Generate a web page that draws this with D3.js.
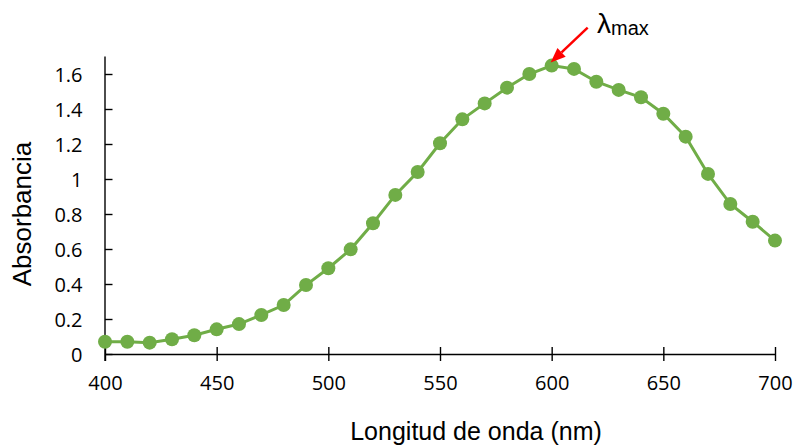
<!DOCTYPE html>
<html>
<head>
<meta charset="utf-8">
<script src="https://cdn.jsdelivr.net/npm/d3@7"></script>
<style>
  html, body { margin: 0; padding: 0; background: #fff; }
  svg { display: block; }
  .tick text { font-family: "Open Sans", "Noto Sans", sans-serif; font-size: 20px; fill: #000; }
  .title { font-family: "Liberation Sans", Arial, sans-serif; fill: #000; }
</style>
</head>
<body>
<svg id="chart" width="794" height="446"></svg>
<script>
// wavelength (nm) and measured absorbance
const wavelengths = [400, 410, 420, 430, 440, 450, 460, 470, 480, 490, 500, 510, 520, 530, 540, 550,
  560, 570, 580, 590, 600, 610, 620, 630, 640, 650, 660, 670, 680, 690, 700];
const absorbance = [0.070, 0.070, 0.065, 0.084, 0.107, 0.141, 0.171, 0.223, 0.280, 0.394, 0.490, 0.598,
  0.747, 0.909, 1.040, 1.204, 1.341, 1.432, 1.522, 1.600, 1.648, 1.629, 1.556, 1.509, 1.467, 1.373,
  1.242, 1.029, 0.857, 0.756, 0.648];
const xTicks = [400, 450, 500, 550, 600, 650, 700];
const yTicks = [0, 0.2, 0.4, 0.6, 0.8, 1, 1.2, 1.4, 1.6];
const peakIndex = 20;

const svg = d3.select('#chart');
const green = '#70ad47';

const x = d3.scaleLinear().domain([400, 700]).range([105, 775]);
const y = d3.scaleLinear().domain([0, 1.7]).range([354, 56.5]);

const points = wavelengths.map((w, i) => ({ w, a: absorbance[i] }));

// axes (cross ticks like Excel)
const xAxis = svg.append('g')
  .attr('transform', `translate(0,${y(0)})`)
  .call(d3.axisBottom(x).tickValues(xTicks).tickSize(7).tickPadding(15).tickSizeOuter(0));
xAxis.selectAll('.tick line').attr('y1', -7);

const yAxis = svg.append('g')
  .attr('transform', `translate(${x(400)},0)`)
  .call(d3.axisLeft(y).tickValues(yTicks).tickSize(7.5).tickPadding(15)
    .tickFormat(d => String(+d.toFixed(1))).tickSizeOuter(0));
yAxis.selectAll('.tick line').attr('x2', 7.5);

svg.selectAll('.domain').attr('stroke', '#000').attr('stroke-width', 1.4);
svg.selectAll('.tick line').attr('stroke', '#000').attr('stroke-width', 1.4);
yAxis.select('.domain').attr('d', `M0,${y(1.7)}V${y(0) + 7}`);
xAxis.selectAll('.tick text').attr('dy', '0.71em');
yAxis.selectAll('.tick text').attr('dy', '0.35em');

// series
const line = d3.line().x(d => x(d.w)).y(d => y(d.a));
svg.append('path')
  .datum(points)
  .attr('fill', 'none')
  .attr('stroke', green)
  .attr('stroke-width', 3)
  .attr('d', line);

svg.append('g')
  .selectAll('circle')
  .data(points)
  .join('circle')
  .attr('cx', d => x(d.w))
  .attr('cy', d => y(d.a))
  .attr('r', 7)
  .attr('fill', green);

// titles
svg.append('text')
  .attr('class', 'title')
  .attr('x', 476)
  .attr('y', 440)
  .attr('text-anchor', 'middle')
  .attr('font-size', 25)
  .text('Longitud de onda (nm)');

svg.append('text')
  .attr('class', 'title')
  .attr('transform', 'translate(31,214) rotate(-90)')
  .attr('text-anchor', 'middle')
  .attr('font-size', 26)
  .text('Absorbancia');

// lambda max annotation
const peak = points[peakIndex];
const tipX = x(peak.w) - 1, tipY = y(peak.a) - 3;
const startX = tipX + 37, startY = tipY - 35;
const ang = Math.atan2(tipY - startY, tipX - startX);
const headLen = 15, headHalf = 6;
const baseX = tipX - headLen * Math.cos(ang), baseY = tipY - headLen * Math.sin(ang);
const nx = -Math.sin(ang), ny = Math.cos(ang);

svg.append('line')
  .attr('x1', startX).attr('y1', startY)
  .attr('x2', baseX).attr('y2', baseY)
  .attr('stroke', '#ff0000')
  .attr('stroke-width', 2.5);

svg.append('path')
  .attr('d', `M${tipX},${tipY}L${baseX + nx * headHalf},${baseY + ny * headHalf}` +
    `L${baseX - nx * headHalf},${baseY - ny * headHalf}Z`)
  .attr('fill', '#ff0000');

const lab = svg.append('text')
  .attr('class', 'title')
  .attr('x', 597)
  .attr('y', 33);
lab.append('tspan').attr('font-size', 28).text('λ');
lab.append('tspan').attr('font-size', 20).attr('dy', 2).text('max');
</script>
</body>
</html>
